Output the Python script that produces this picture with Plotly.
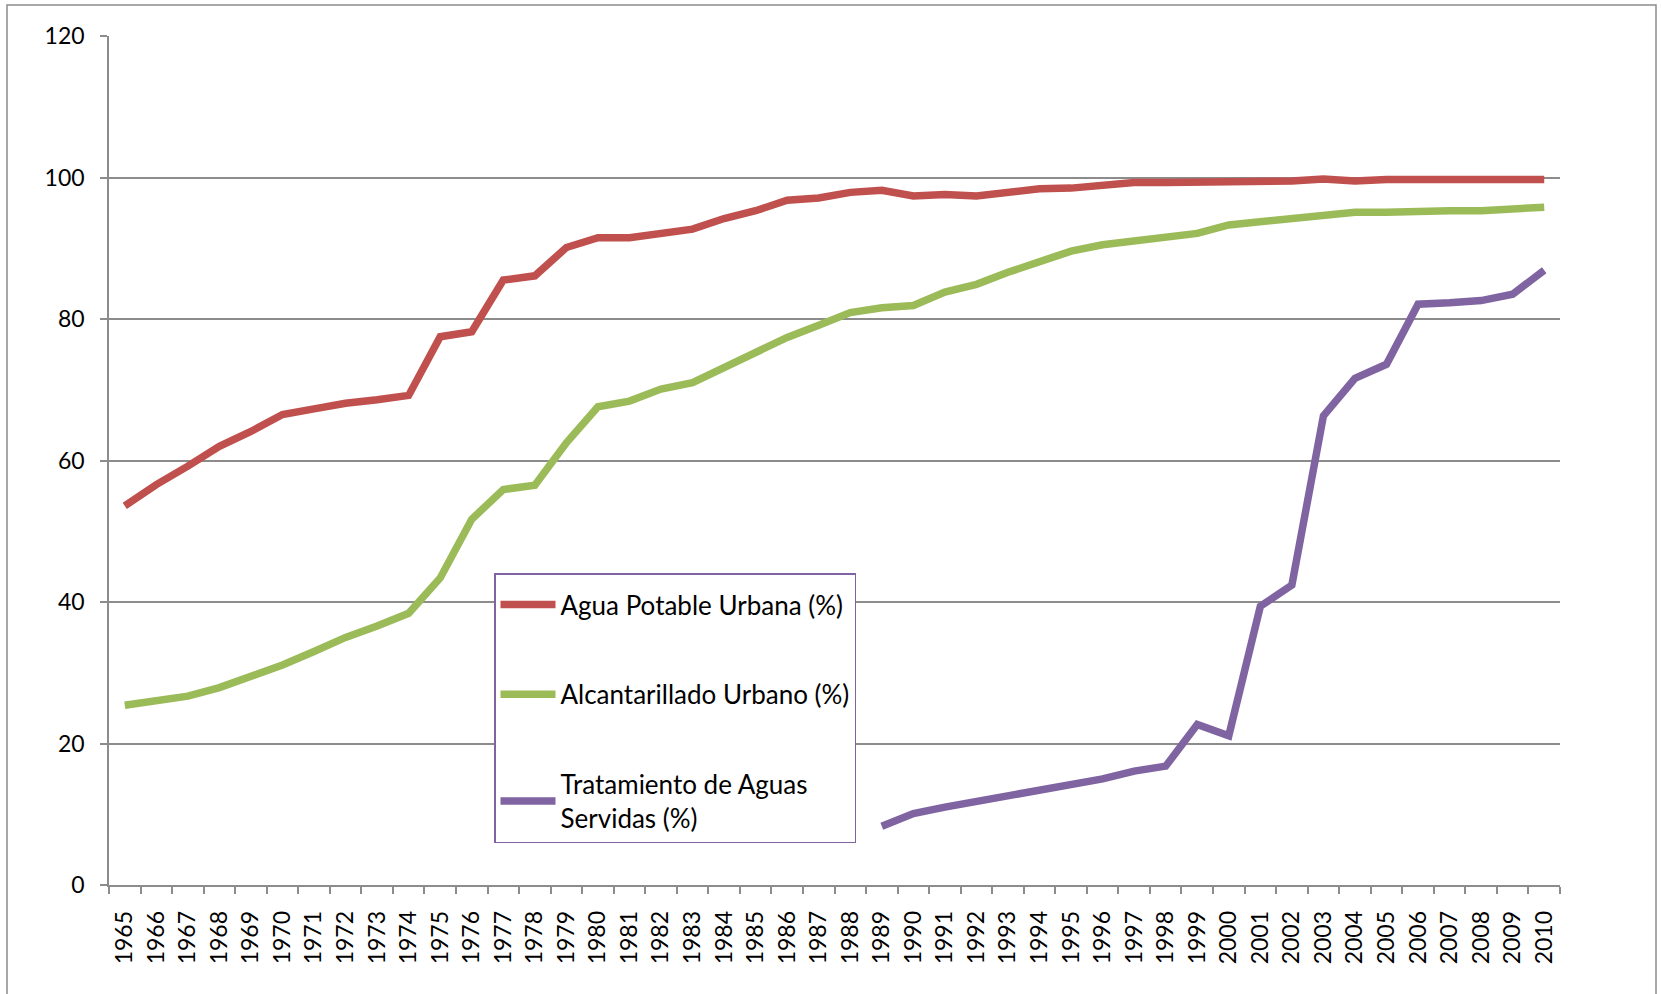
import plotly.graph_objects as go

years = [str(y) for y in range(1965, 2011)]

agua_potable = [53.6, 56.6, 59.2, 62.0, 64.1, 66.5, 67.3, 68.1, 68.6, 69.2,
                77.5, 78.2, 85.5, 86.1, 90.1, 91.5, 91.5, 92.1, 92.7, 94.2,
                95.3, 96.8, 97.1, 97.9, 98.2, 97.4, 97.6, 97.4, 97.9, 98.4,
                98.5, 98.8, 99.3, 99.3, 99.3, 99.5, 99.5, 99.5, 99.8, 99.5,
                99.7, 99.7, 99.7, 99.7, 99.7, 99.7]

alcantarillado = [25.4, 26.1, 26.7, 27.9, 29.5, 31.1, 33.0, 35.0, 36.6, 38.4,
                  43.4, 51.7, 55.9, 56.5, 62.5, 67.6, 68.4, 70.1, 71.0, 73.2,
                  75.4, 77.4, 79.1, 80.9, 81.6, 81.9, 83.8, 84.9, 86.6, 88.2,
                  89.6, 90.5, 91.0, 91.5, 92.1, 93.3, 93.8, 94.3, 94.8, 95.1,
                  95.1, 95.3, 95.3, 95.3, 95.5, 95.8]

tratamiento = [None] * 24 + [8.3, 10.1, 11.0, 11.8, 12.6, 13.4, 14.2, 15.0,
                             16.1, 16.8, 22.7, 21.1, 39.4, 42.4, 66.3, 71.6,
                             73.6, 82.1, 82.3, 82.6, 83.5, 86.9]

series_names = ["Agua Potable Urbana (%)", "Alcantarillado Urbano (%)",
                "Tratamiento de Aguas<br>Servidas (%)"]
series_colors = ["#C0504D", "#9BBB59", "#8064A2"]
y_ticks = [0, 20, 40, 60, 80, 100, 120]

FONT = "Lato"
GRID = "#8C8C8C"

fig = go.Figure()
for i, (vals, name, col) in enumerate(zip([agua_potable, alcantarillado, tratamiento],
                                          series_names, series_colors)):
    fig.add_trace(go.Scatter(
        x=years, y=vals, mode="lines", name=name,
        line=dict(color=col, width=7.5),
        legendgroup=f"g{i}", connectgaps=False,
    ))

W, H = 1661, 994
L, R, T, B = 109, 101, 36, 109
pw = W - L - R
ph = H - T - B


def py(pix):
    return 1 - (pix - T) / ph


def px(pix):
    return (pix - L) / pw


# outer chart border (extends beyond the bottom of the picture)
fig.add_shape(type="rect", xref="paper", yref="paper",
              x0=px(7), x1=px(1656), y0=py(1020), y1=py(5),
              line=dict(color="#8C8C8C", width=1.5),
              fillcolor="rgba(0,0,0,0)", layer="below")

fig.update_layout(
    width=W, height=H,
    margin=dict(l=L, r=R, t=T, b=B),
    paper_bgcolor="white", plot_bgcolor="white",
    font=dict(family=FONT, size=23, color="black"),
    showlegend=True,
    legend=dict(
        x=px(494), y=py(573),
        xanchor="left", yanchor="top",
        bordercolor="#8064A2", borderwidth=1.5, bgcolor="white",
        font=dict(family=FONT, size=26, color="black"),
        title=dict(text=" ", font=dict(size=5)),
        tracegroupgap=53, itemwidth=55,
    ),
    xaxis=dict(
        type="category", range=[-0.5, 45.5],
        showline=True, linecolor=GRID, linewidth=1.5,
        ticks="outside", ticklen=7, tickcolor=GRID, tickwidth=1.5,
        tickson="boundaries", tickangle=-90,
        showgrid=False, ticklabelstandoff=15,
        tickfont=dict(family=FONT, size=23),
    ),
    yaxis=dict(
        range=[0, 120], tickvals=y_ticks,
        showline=True, linecolor=GRID, linewidth=1.5,
        ticks="outside", ticklen=7, tickcolor=GRID, tickwidth=1.5,
        showgrid=True, gridcolor=GRID, gridwidth=1.5,
        zeroline=False, ticklabelstandoff=11,
        tickfont=dict(family=FONT, size=23),
    ),
)

fig.write_html("out.html", config={"displayModeBar": False},
               post_script="document.body.style.margin='0';")
